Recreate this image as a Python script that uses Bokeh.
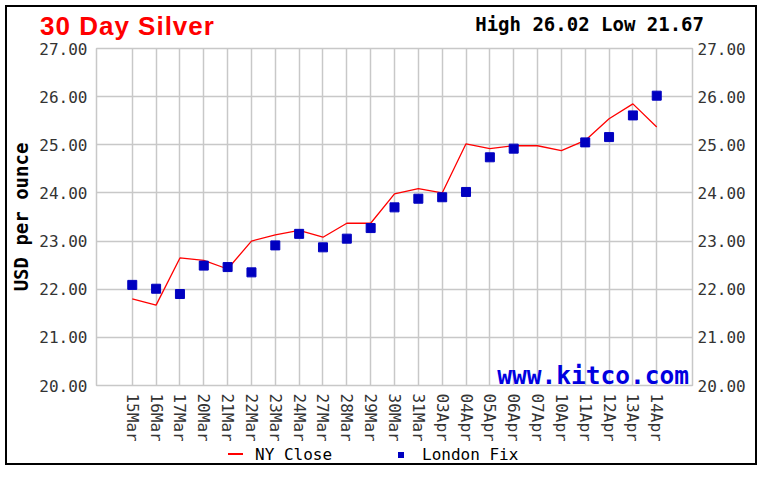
import numpy as np
from bokeh.plotting import figure
from bokeh.layouts import column
from bokeh.models import (FactorRange, Range1d, LinearAxis, FixedTicker,
                          PrintfTickFormatter, Label, Div)
from bokeh.embed import file_html
from bokeh.resources import INLINE

# data
dates = ["15Mar", "16Mar", "17Mar", "20Mar", "21Mar", "22Mar", "23Mar", "24Mar",
         "27Mar", "28Mar", "29Mar", "30Mar", "31Mar", "03Apr", "04Apr", "05Apr",
         "06Apr", "07Apr", "10Apr", "11Apr", "12Apr", "13Apr", "14Apr"]
ny_close = [21.80, 21.67, 22.65, 22.60, 22.42, 23.00, 23.13, 23.22, 23.08, 23.37, 23.37,
            23.98, 24.09, 24.00, 25.02, 24.92, 24.98, 24.98, 24.88, 25.09, 25.54, 25.85, 25.37]
london_fix = [22.09, 22.01, 21.90, 22.49, 22.46, 22.35, 22.91, 23.15, 22.87, 23.05, 23.27,
              23.70, 23.88, 23.91, 24.02, 24.74, 24.92, np.nan, np.nan, 25.05, 25.16, 25.61, 26.02]
y_ticks = [20, 21, 22, 23, 24, 25, 26, 27]
series_names = ["NY Close", "London Fix"]
high, low = 26.02, 21.67

MONO = "DejaVu Sans Mono"
GRID = "#c8c8c8"
RED = "#ff0000"
BLUE = "#0000c0"

# header with the title and the high / low line
header = Div(width=748, height=31, styles={"margin": "0", "padding": "0", "overflow": "visible"}, text=(
    '<div style="position:relative;width:748px;height:31px;">'
    '<span style="position:absolute;left:33px;top:4px;white-space:nowrap;'
    'font-family:\'Liberation Sans\';font-weight:bold;font-size:26px;line-height:30px;'
    'letter-spacing:1px;color:%s;">30 Day Silver</span>'
    '<span style="position:absolute;right:51px;top:6px;white-space:nowrap;'
    'font-family:\'DejaVu Sans Mono\';font-weight:bold;font-size:19px;line-height:22px;'
    'color:#000000;">High %.2f Low %.2f</span></div>' % (RED, high, low)))

# create the figure (frame size fixed, borders from min_border)
p = figure(x_range=FactorRange(factors=dates, range_padding=1.0, range_padding_units="absolute"),
           y_range=Range1d(20, 27), frame_width=596, frame_height=337,
           output_backend="svg", toolbar_location=None,
           min_border_left=89, min_border_right=63, min_border_top=10, min_border_bottom=62)
p.background_fill_color = "white"
p.border_fill_alpha = 0
p.outline_line_color = GRID
p.outline_line_width = 1.5

# grids
p.xgrid.grid_line_color = GRID
p.xgrid.grid_line_width = 1.5
p.ygrid.grid_line_color = GRID
p.ygrid.grid_line_width = 1.5
p.ygrid.ticker = FixedTicker(ticks=y_ticks, minor_ticks=[])

# axes
right = LinearAxis()
p.add_layout(right, "right")
for ax in (p.yaxis[0], right):
    ax.ticker = FixedTicker(ticks=y_ticks, minor_ticks=[])
    ax.formatter = PrintfTickFormatter(format="%.2f")
for ax in p.axis:
    ax.axis_line_color = None
    ax.major_tick_line_color = None
    ax.minor_tick_line_color = None
    ax.major_tick_out = 0
    ax.major_tick_in = 0
    ax.major_label_text_font = MONO
    ax.major_label_text_font_size = "16px"
    ax.major_label_text_color = "#333333"
p.yaxis[0].major_label_standoff = 9
right.major_label_standoff = 5
p.xaxis.major_label_standoff = 8
p.xaxis.major_label_orientation = "vertical"
p.yaxis[0].axis_label = "USD per ounce"
p.yaxis[0].axis_label_text_font = MONO
p.yaxis[0].axis_label_text_font_style = "bold"
p.yaxis[0].axis_label_text_font_size = "19px"
p.yaxis[0].axis_label_text_color = "black"
p.yaxis[0].axis_label_standoff = 4

# series
p.line(dates, ny_close, line_color=RED, line_width=1.3)
p.scatter(dates, london_fix, marker="square", size=9, fill_color=BLUE, line_color=BLUE)

# watermark in the lower right corner of the frame
p.add_layout(Label(x=15.81, y=20.21, text="www.kitco.com", text_font=MONO,
                   text_font_style="bold", text_font_size="24.5px",
                   text_color="#0000e0", text_align="left", text_baseline="alphabetic"))

# legend row under the axis (side-panel legends misplace here)
footer = Div(width=748, height=16, styles={"margin": "0", "padding": "0", "overflow": "visible"}, text=(
    '<div style="position:relative;width:748px;height:16px;font-family:\'DejaVu Sans Mono\';'
    'font-size:16px;line-height:16px;color:#000000;">'
    '<span style="position:absolute;left:221px;top:6px;width:15px;height:2px;background:%s;"></span>'
    '<span style="position:absolute;left:248px;top:0px;white-space:nowrap;">%s</span>'
    '<span style="position:absolute;left:391px;top:5px;width:6px;height:6px;background:%s;"></span>'
    '<span style="position:absolute;left:415px;top:0px;white-space:nowrap;">%s</span>'
    '</div>' % (RED, series_names[0], BLUE, series_names[1])))

page = column(header, p, footer, spacing=0,
              styles={"border": "2px solid #000000", "margin": "5px 0 0 5px"})
open("out.html", "w").write(file_html(page, INLINE))
